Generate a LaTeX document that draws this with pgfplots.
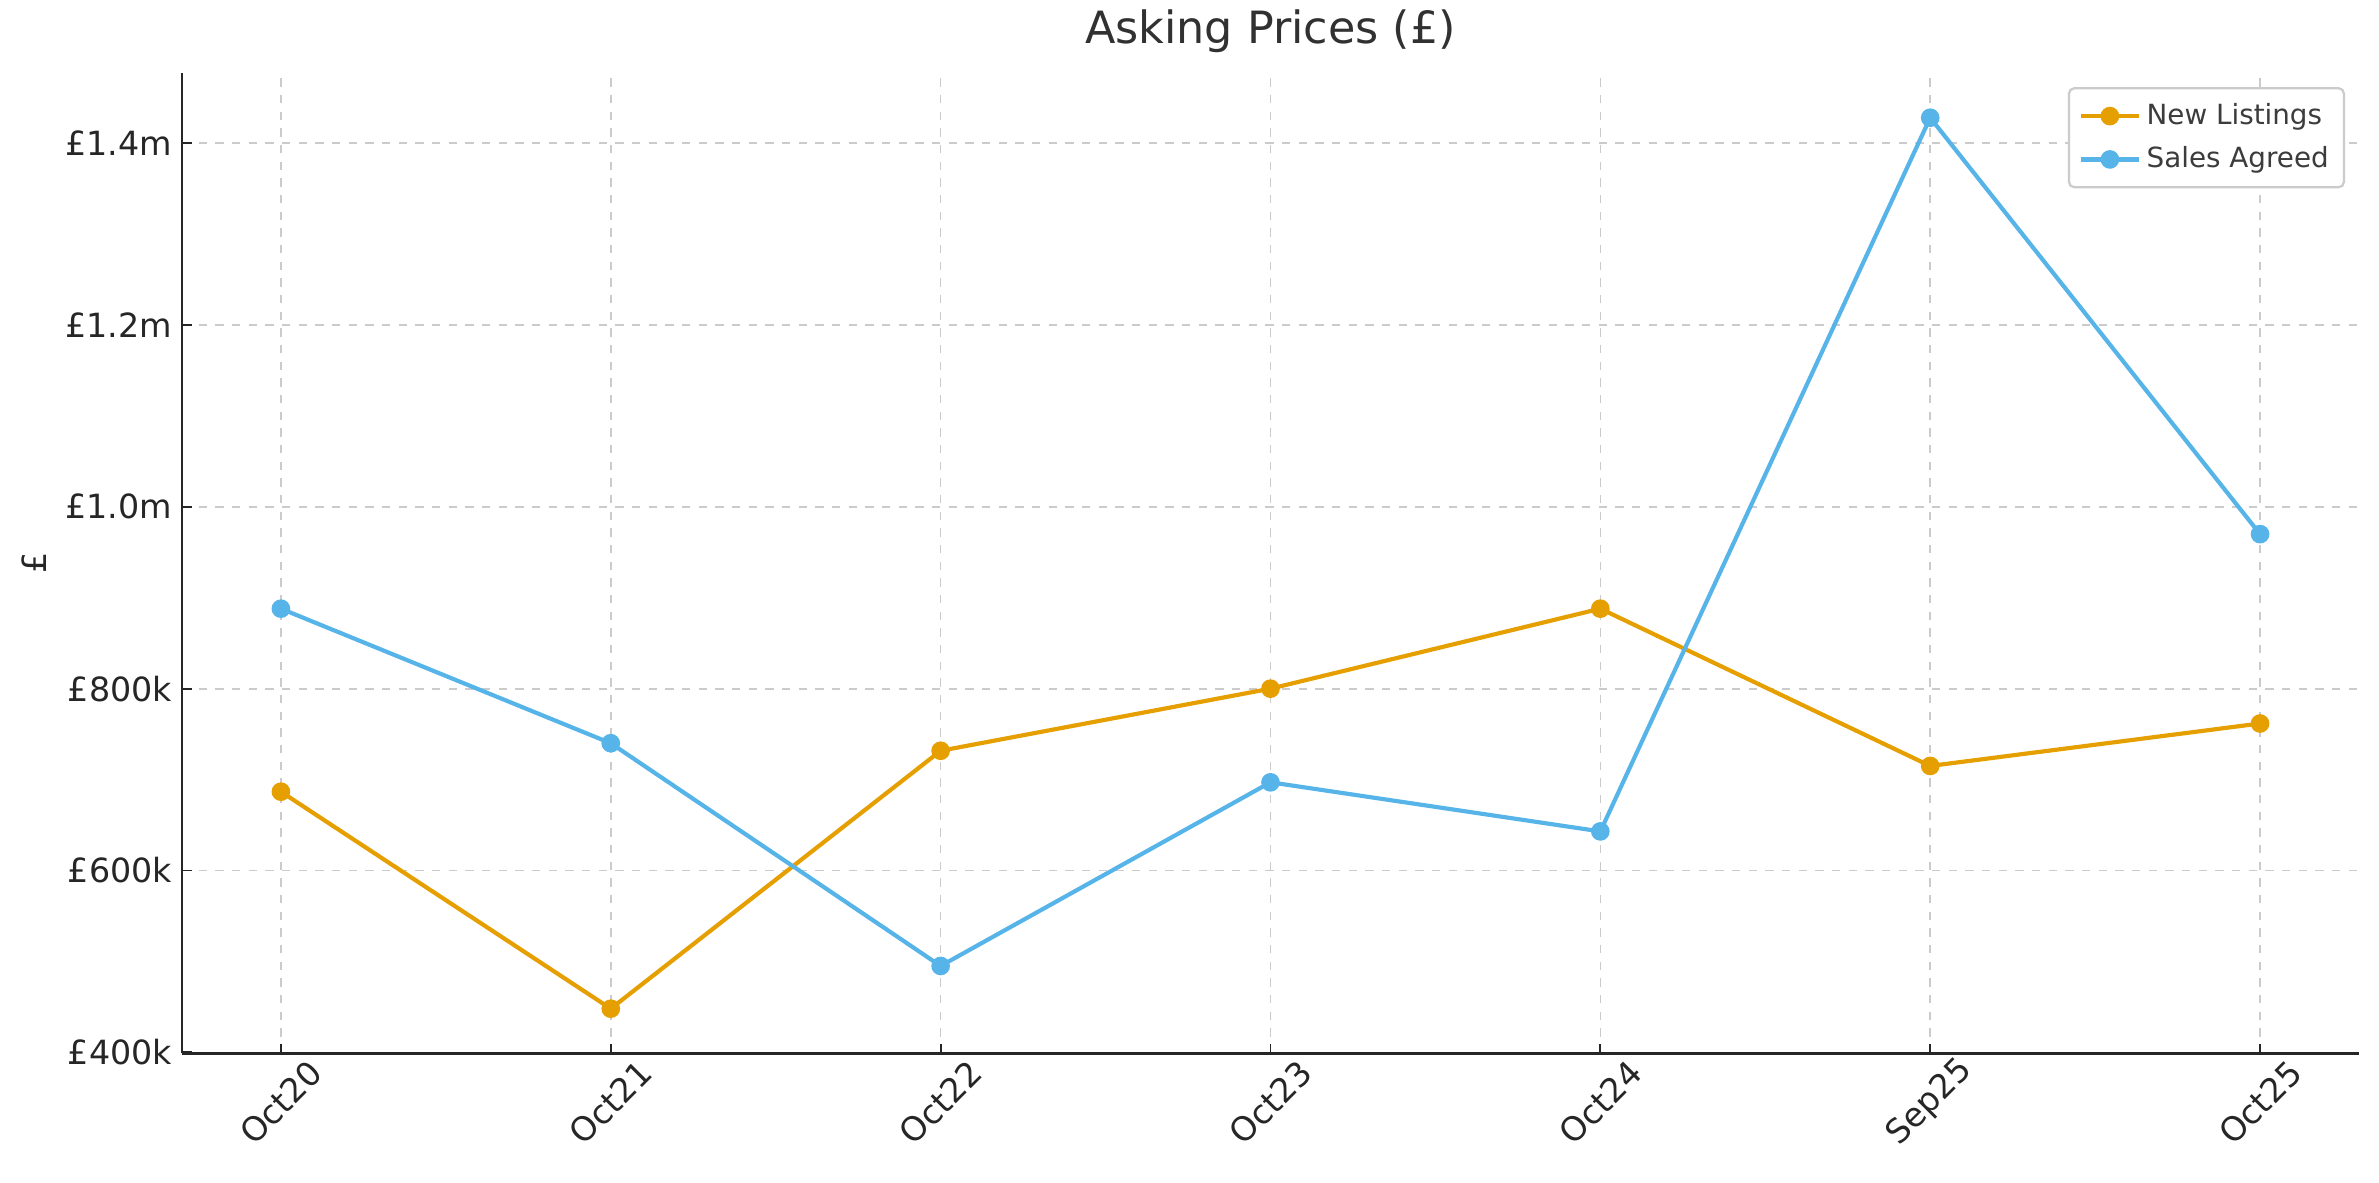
\documentclass[border=0pt]{standalone}
\usepackage{pgfplots}
\pgfplotsset{compat=1.18}
\usepackage{fontspec}
\setmainfont{DejaVu Sans}
\definecolor{nl}{HTML}{E69F00}
\definecolor{sa}{HTML}{56B4E9}
\definecolor{txt}{HTML}{262626}
\definecolor{gridc}{HTML}{CBCBCB}
\begin{document}
\begin{tikzpicture}
\begin{axis}[
  scale only axis,
  width=783.7pt, height=352.8pt,
  xmin=-0.3, xmax=6.3, ymin=399, ymax=1477,
  axis lines*=left,
  axis line style={line width=1pt, color=txt},
  xtick={0,...,6},
  xticklabels={Oct20,Oct21,Oct22,Oct23,Oct24,Sep25,Oct25},
  ytick={400,600,800,1000,1200,1400},
  yticklabels={£400k,£600k,£800k,£1.0m,£1.2m,£1.4m},
  tick align=inside,
  major tick length=3.5pt,
  tick style={color=txt, line width=0.7pt},
  xticklabel style={font=\fontsize{12}{14}\selectfont, text=txt, rotate=45, anchor=center, xshift=-12.6pt, yshift=-12.6pt},
  yticklabel style={font=\fontsize{12}{14}\selectfont, text=txt},
  ymajorgrids, xmajorgrids,
  grid style={gridc, dashed, line width=0.6pt},
  title={Asking Prices (£)},
  title style={font=\fontsize{16}{19}\selectfont, text=txt!95, yshift=-2pt},
  ylabel={£},
  ylabel style={font=\fontsize{12}{14}\selectfont, text=txt},
  legend style={at={(1,1)}, anchor=north east, xshift=-5pt, yshift=-5pt,
    font=\fontsize{10}{12}\selectfont, text=txt!90, draw=gridc, line width=0.8pt,
    rounded corners=2pt, fill=white, row sep=2.5pt, inner sep=3.5pt},
  legend cell align=left,
  legend image code/.code={\draw[mark repeat=2,mark phase=2] plot coordinates {(0pt,0pt) (10.5pt,0pt) (21pt,0pt)};},
  every axis plot/.append style={line width=1.5pt},
]
\addplot[nl, mark=*, mark size=2.6pt, mark options={solid}] coordinates {
  (0,686.7) (1,448) (2,731.7) (3,800) (4,888) (5,715) (6,761.7)};
\addlegendentry{New Listings}
\addplot[sa, mark=*, mark size=2.6pt, mark options={solid}] coordinates {
  (0,888) (1,740) (2,495) (3,697) (4,643) (5,1428) (6,970)};
\addlegendentry{Sales Agreed}
\end{axis}
\path (current axis.south west) ++(-65.5pt,-46.4pt) coordinate (bl);
\useasboundingbox (bl) rectangle ++(856.4pt,424.8pt);
\end{tikzpicture}
\end{document}
